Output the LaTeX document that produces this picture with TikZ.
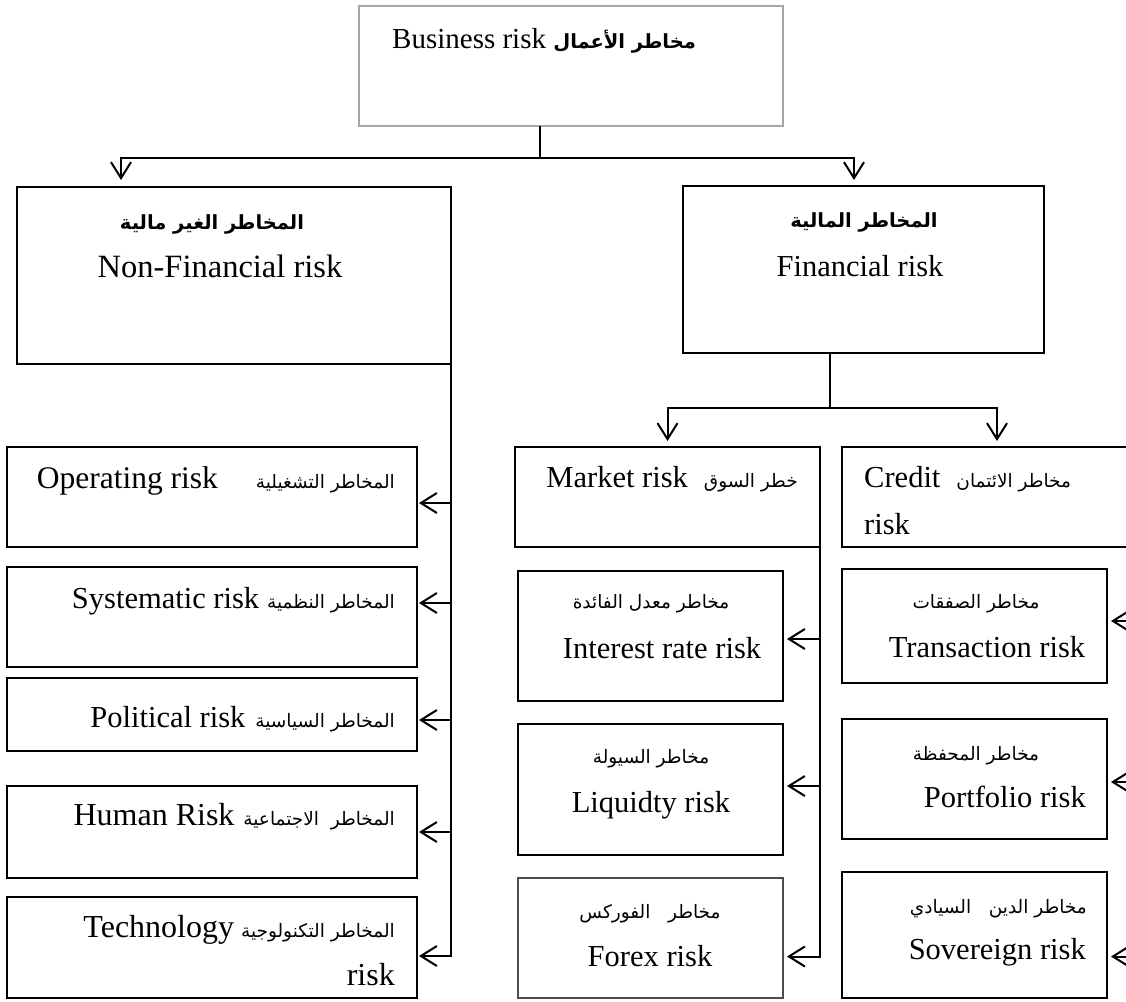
\documentclass[tikz,border=0pt]{standalone}
\usepackage{fontspec}
\setmainfont{Liberation Serif}
\newfontfamily\arfont[Script=Arabic]{DejaVu Sans}
\TeXXeTstate=1
\usetikzlibrary{arrows.meta,calc}

% Arabic runs (right to left), regular and bold
\newcommand\artxt[1]{{\arfont\fontsize{18.5}{22}\selectfont\beginR #1\endR}}
\newcommand\artxtb[1]{{\arfont\bfseries\fontsize{19.5}{23}\selectfont\beginR #1\endR}}

% \riskbox[options]{name}{x1}{y1}{x2}{y2}
\newcommand\riskbox[6][]{%
  \node[riskframe,#1,minimum width={#5-#3},minimum height={#6-#4}] (#2) at (#3,#4) {};}

\tikzset{
  riskframe/.style={draw, line width=2pt, inner sep=0pt, outer sep=0pt, anchor=north west},
  link/.style={line width=2pt},
  arr/.style={line width=2pt, -{Straight Barb[length=16pt,width=20pt,line width=2pt]}},
  en/.style={font=\fontsize{#1}{#1}\selectfont, inner sep=0pt},
  en/.default=30.5,
  ar/.style={inner sep=0pt},
}

\begin{document}
\begin{tikzpicture}[x=1pt,y=-1pt]
\useasboundingbox (0,0) rectangle (1126,1001);
\fill[white] (0,0) rectangle (1126,1001);
\clip (0,0) rectangle (1126,1001);

% ---- boxes ----
\riskbox[draw=black!35,line width=1.4pt]{top}{359}{6}{783}{126}
\riskbox{nf}{17}{187}{451}{364}
\riskbox{fin}{683}{186}{1044}{353}
\riskbox{mk}{515}{447}{820}{547}
\riskbox{cr}{842}{447}{1160}{547}
\riskbox{ir}{518}{571}{783}{701}
\riskbox{lq}{518}{724}{783}{855}
\riskbox[draw=black!70]{fx}{518}{878}{783}{998}
\riskbox{tr}{842}{569}{1107}{683}
\riskbox{pf}{842}{719}{1107}{839}
\riskbox{sv}{842}{872}{1107}{998}
\riskbox{op}{7}{447}{417}{547}
\riskbox{sy}{7}{567}{417}{667}
\riskbox{po}{7}{678}{417}{751}
\riskbox{hu}{7}{786}{417}{878}
\riskbox{te}{7}{897}{417}{998}

% ---- texts ----
\node[en=29,anchor=base west] (ttop) at (392,48) {Business risk \artxtb{مخاطر الأعمال}};

\node[ar,anchor=base] (tnf1) at (212,229) {\artxtb{المخاطر الغير مالية}};
\node[en=32.5,anchor=base] (tnf2) at (220,277) {Non-Financial risk};

\node[ar,anchor=base] (tfin1) at (864,227) {\artxtb{المخاطر المالية}};
\node[en,anchor=base] (tfin2) at (860,276) {Financial risk};

\node[en,anchor=base east] (tmk) at (798,487) {Market risk\hspace{16pt}\artxt{خطر السوق}};
\node[en,anchor=base west] (tcr1) at (864,487) {Credit\hspace{16pt}\artxt{مخاطر الائتمان}};
\node[en,anchor=base west] (tcr2) at (864,534) {risk};

\node[ar,anchor=base] (tir1) at (651,608) {\artxt{مخاطر معدل الفائدة}};
\node[en,anchor=base] (tir2) at (662,658) {Interest rate risk};
\node[ar,anchor=base] (tlq1) at (651,763) {\artxt{مخاطر السيولة}};
\node[en,anchor=base] (tlq2) at (651,812) {Liquidty risk};
\node[ar,anchor=base] (tfx1) at (650,918) {\artxt{مخاطر~~~الفوركس}};
\node[en,anchor=base] (tfx2) at (650,966) {Forex risk};

\node[ar,anchor=base] (ttr1) at (976,608) {\artxt{مخاطر الصفقات}};
\node[en,anchor=base] (ttr2) at (987,657) {Transaction risk};
\node[ar,anchor=base] (tpf1) at (976,760) {\artxt{مخاطر المحفظة}};
\node[en,anchor=base east] (tpf2) at (1086,807) {Portfolio risk};
\node[ar,anchor=base east] (tsv1) at (1087,913) {\artxt{مخاطر الدين~~~السيادي}};
\node[en,anchor=base east] (tsv2) at (1086,959) {Sovereign risk};

\node[en=31.5,anchor=base east] (top1) at (395,488) {Operating risk\hspace{38pt}\artxt{المخاطر التشغيلية}};
\node[en=30.5,anchor=base east] (tsy) at (395,608) {Systematic risk\hspace{8pt}\artxt{المخاطر النظمية}};
\node[en=30.5,anchor=base east] (tpo) at (395,727) {Political risk\hspace{10pt}\artxt{المخاطر السياسية}};
\node[en=32,anchor=base east] (thu) at (395,825) {Human Risk\hspace{9pt}\artxt{المخاطر~~الاجتماعية}};
\node[en=32,anchor=base east] (tte1) at (395,937) {Technology\hspace{7pt}\artxt{المخاطر التكنولوجية}};
\node[en=32,anchor=base east] (tte2) at (395,985) {risk};

% ---- connectors ----
\coordinate (splitA) at (540,158);
\draw[link] (top.south -| splitA) -- (splitA);
\draw[arr,shorten >=7pt] (splitA) -| ([xshift=-113pt]nf.north);
\draw[arr,shorten >=6pt] (splitA) -| ([xshift=-9.5pt]fin.north);

\coordinate (splitB) at (830,408);
\draw[link] (fin.south -| splitB) -- (splitB);
\draw[arr,shorten >=6pt] (splitB) -| (mk.north);
\draw[arr,shorten >=6pt] (splitB) -| ([xshift=155pt]cr.north west);

% non-financial branch
\draw[arr,shorten >=2pt] (nf.south east) |- ([yshift=-8.5pt]te.east);
\draw[arr,shorten >=2pt] ([yshift=-6pt]op.east -| nf.south east) -- ([yshift=-6pt]op.east);
\draw[arr,shorten >=2pt] ([yshift=14pt]sy.east -| nf.south east) -- ([yshift=14pt]sy.east);
\draw[arr,shorten >=2pt] ([yshift=-5.5pt]po.east -| nf.south east) -- ([yshift=-5.5pt]po.east);
\draw[arr,shorten >=2pt] (hu.east -| nf.south east) -- (hu.east);

% market branch
\draw[arr,shorten >=4pt] (mk.south east) |- ([yshift=-18.5pt]fx.east);
\draw[arr,shorten >=4pt] ([yshift=-3pt]ir.east -| mk.south east) -- ([yshift=-3pt]ir.east);
\draw[arr,shorten >=4pt] ([yshift=3.5pt]lq.east -| mk.south east) -- ([yshift=3.5pt]lq.east);

% credit branch
\coordinate (busC) at (1145,560);
\draw[link] (busC) -- (busC |- sv.south);
\draw[arr,shorten >=4pt] ([yshift=5pt]tr.east -| busC) -- ([yshift=5pt]tr.east);
\draw[arr,shorten >=4pt] ([yshift=-3pt]pf.east -| busC) -- ([yshift=-3pt]pf.east);
\draw[arr,shorten >=4pt] ([yshift=-21.5pt]sv.east -| busC) -- ([yshift=-21.5pt]sv.east);
\end{tikzpicture}
\end{document}
